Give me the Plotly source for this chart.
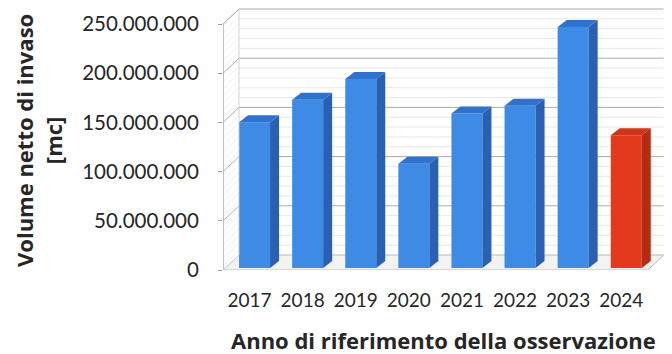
import plotly.graph_objects as go

# Data: net reservoir volume by reference year
years = ["2017", "2018", "2019", "2020", "2021", "2022", "2023", "2024"]
volumes = [148e6, 171e6, 192e6, 106e6, 157e6, 165e6, 245e6, 135e6]
y_ticks = [0, 50e6, 100e6, 150e6, 200e6, 250e6]
highlight_year = "2024"

# Canvas and pseudo-3D geometry (pixels)
W_PX, H_PX = 672, 354
FRONT_LEFT_PX = 223      # x pixel of the front-left corner of the floor
FLOOR_PX = 270           # y pixel of the front floor edge (value 0)
PX_PER_CAT = 53.1
PX_PER_VAL = 246 / 250e6
WALL_DX_PX, WALL_DY_PX = 16, 15
BAR_SHIFT_X_PX, BAR_SHIFT_Y_PX = 5, 2
BAR_W_PX = 31
BAR_DX_PX, BAR_DY_PX = 9, 7
Y_MAX = 270e6

n = len(years)
wdx = WALL_DX_PX / PX_PER_CAT
wdy = WALL_DY_PX / PX_PER_VAL
bdx = BAR_DX_PX / PX_PER_CAT
bdy = BAR_DY_PX / PX_PER_VAL
bw = BAR_W_PX / PX_PER_CAT
bsx = BAR_SHIFT_X_PX / PX_PER_CAT
bsy = BAR_SHIFT_Y_PX / PX_PER_VAL

x0, x1 = -0.5, n - 0.5
x_right = x1 + wdx

fig = go.Figure()
shapes = []

def poly(xs, ys, fill, line=None, width=0, **kw):
    fig.add_trace(go.Scatter(
        x=xs + [xs[0]], y=ys + [ys[0]], mode="lines", fill="toself",
        fillcolor=fill, line=dict(color=line or fill, width=width),
        hoverinfo="skip", showlegend=False, **kw))

def seg(xs, ys, color, width=1):
    fig.add_trace(go.Scatter(x=xs, y=ys, mode="lines",
                             line=dict(color=color, width=width),
                             hoverinfo="skip", showlegend=False))

def back_line(xa, ya, xb, yb, color, width=1):
    shapes.append(dict(type="line", xref="x", yref="y", x0=xa, y0=ya,
                       x1=xb, y1=yb, layer="below",
                       line=dict(color=color, width=width)))

# Back wall gridlines (minor every 10M, major every 50M), kept under the bars
step = 10e6
v = step
while v < y_ticks[-1] - 1:
    if all(abs(v - t) > 1 for t in y_ticks):
        back_line(x0 + wdx, v + wdy, x_right, v + wdy, "#e2e2e2", 0.8)
    v += step
for t in y_ticks[1:]:
    back_line(x0 + wdx, t + wdy, x_right, t + wdy, "#ababab", 1)

# Floor
floor_pts = [(x0, 0), (x1, 0), (x_right, wdy), (x0 + wdx, wdy)]
shapes.append(dict(
    type="path", xref="x", yref="y", layer="below",
    path="M " + " L ".join(f"{px},{py}" for px, py in floor_pts) + " Z",
    fillcolor="#f3f3f3", line=dict(color="#b8b8b8", width=1)))

# Left side wall with hatching and tick connectors
poly([x0, x0, x0 + wdx, x0 + wdx], [0, y_ticks[-1], y_ticks[-1] + wdy, wdy],
     "rgba(255,255,255,0)", line="#c8c8c8", width=0.8,
     fillpattern=dict(shape="/", fgcolor="#d6d6d6", bgcolor="white",
                      size=5, solidity=0.15))
for t in y_ticks[1:]:
    seg([x0, x0 + wdx], [t, t + wdy], "#b5b5b5", 1)

# Front y axis edge
seg([x0, x0], [0, y_ticks[-1]], "#9a9a9a", 1)

# Bars: front face via Bar, side and top faces as polygons
colors_front = ["#e33a1b" if y == highlight_year else "#3d8be4" for y in years]
colors_side = ["#b72b12" if y == highlight_year else "#2960b3" for y in years]
colors_top = ["#cf3519" if y == highlight_year else "#2f72cd" for y in years]

fig.add_trace(go.Bar(
    x=list(range(n)), y=volumes, base=bsy, width=bw, offset=-bw / 2 + bsx,
    marker=dict(color=colors_front, line=dict(width=0)),
    hoverinfo="skip", showlegend=False))

for i, val in enumerate(volumes):
    xl = i - bw / 2 + bsx
    xr = i + bw / 2 + bsx
    top = bsy + val
    poly([xr, xr + bdx, xr + bdx, xr], [bsy, bsy + bdy, top + bdy, top],
         colors_side[i])
    poly([xl, xr, xr + bdx, xl + bdx], [top, top, top + bdy, top + bdy],
         colors_top[i])

# Axes positioned so the category/value scales land on the front plane
dom_x = [FRONT_LEFT_PX / W_PX,
         (FRONT_LEFT_PX + (x_right - x0) * PX_PER_CAT) / W_PX]
top_px = FLOOR_PX - Y_MAX * PX_PER_VAL
dom_y = [(H_PX - FLOOR_PX) / H_PX, (H_PX - top_px) / H_PX]

text_color = "#262626"
title_font = dict(family="Open Sans", size=22, color=text_color)

fig.update_layout(
    width=W_PX, height=H_PX,
    margin=dict(l=0, r=0, t=0, b=0, autoexpand=False),
    paper_bgcolor="white", plot_bgcolor="white",
    separators=",.",
    barmode="overlay",
    shapes=shapes,
    xaxis=dict(domain=dom_x, range=[x0, x_right], showgrid=False,
               zeroline=False, showline=False, automargin=False,
               tickvals=list(range(n)), ticktext=years, ticks="",
               tickfont=dict(family="Lato", size=19, color=text_color),
               ticklabelstandoff=17),
    yaxis=dict(domain=dom_y, range=[0, Y_MAX], showgrid=False,
               zeroline=False, showline=False, automargin=False,
               tickvals=y_ticks, tickformat=",d", ticks="outside",
               ticklen=4, tickcolor="#9a9a9a", tickwidth=1,
               tickfont=dict(family="Lato", size=20.5, color=text_color),
               ticklabelstandoff=15),
    annotations=[
        dict(text="<b>Anno di riferimento della osservazione</b>",
             xref="paper", yref="paper", x=443 / W_PX, y=(H_PX - 340) / H_PX,
             xanchor="center", yanchor="middle", showarrow=False,
             font=title_font),
        dict(text="<b>Volume netto di invaso<br>[mc]</b>",
             xref="paper", yref="paper", x=38 / W_PX, y=(H_PX - 141) / H_PX,
             xanchor="center", yanchor="middle", showarrow=False,
             textangle=-90, font=title_font),
    ],
)

fig.write_html("out.html")
